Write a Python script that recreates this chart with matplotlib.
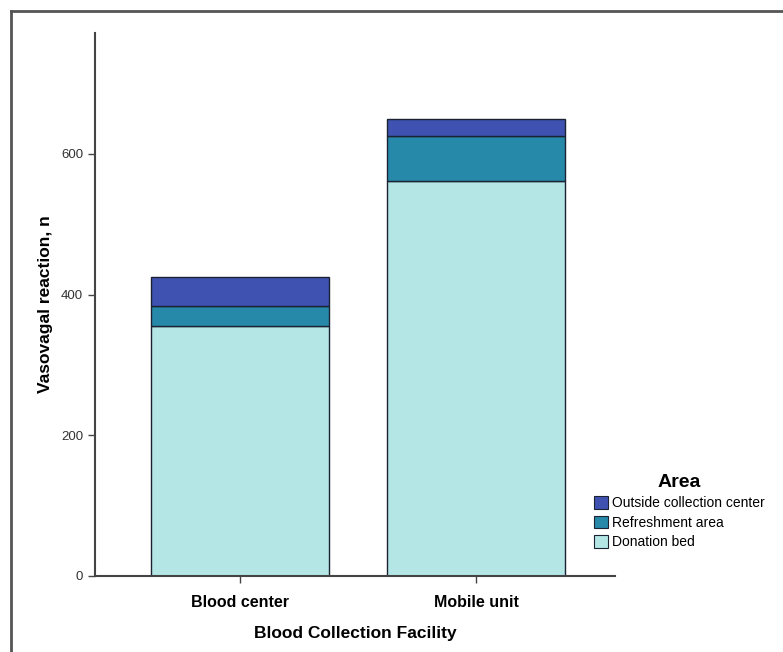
import matplotlib.pyplot as plt
from matplotlib.lines import Line2D
from matplotlib.patches import Patch

plt.rcParams['font.family'] = ['Liberation Sans', 'DejaVu Sans']

facilities = ['Blood center', 'Mobile unit']
areas = ['Donation bed', 'Refreshment area', 'Outside collection center']
donation_bed = [355, 562]
refreshment = [29, 64]
outside = [41, 24]
colors = ['#b4e6e6', '#2689a9', '#3f52b2']

fig = plt.figure(figsize=(7.83, 6.52), dpi=100)
ax = fig.add_axes([0.1213, 0.1166, 0.6641, 0.8328])

x = [0, 1]
w = 0.754
bottom = [0, 0]
for vals, col in zip([donation_bed, refreshment, outside], colors):
    ax.bar(x, vals, w, bottom=bottom, color=col, edgecolor='#1b2333', linewidth=1.0)
    bottom = [b + v for b, v in zip(bottom, vals)]

ax.set_xlim(-0.614, 1.589)
ax.set_ylim(0, 772)
ax.set_yticks([0, 200, 400, 600])
ax.set_xticks(x)
ax.set_xticklabels(facilities, fontsize=11.5, fontweight='bold')
ax.tick_params(axis='y', labelsize=9.5, labelcolor='#333333', length=5, width=1, color='#444444')
ax.tick_params(axis='x', length=5, width=1, color='#444444', pad=9)

for s in ['top', 'right']:
    ax.spines[s].set_visible(False)
for s in ['left', 'bottom']:
    ax.spines[s].set_color('#444444')
    ax.spines[s].set_linewidth(1.5)

ax.set_xlabel('Blood Collection Facility', fontsize=12.5, fontweight='bold', labelpad=11)
ax.set_ylabel('Vasovagal reaction, n', fontsize=12.5, fontweight='bold', labelpad=6)

# legend, top entry first
handles = [Patch(facecolor=c, edgecolor='#1b2333', linewidth=0.8) for c in colors[::-1]]
leg = fig.legend(handles, areas[::-1], loc='upper left', bbox_to_anchor=(0.7495, 0.284),
                 frameon=False, title='Area', fontsize=10, handlelength=1.0,
                 handleheight=1.0, handletextpad=0.3, labelspacing=0.4, borderpad=0)
leg.get_title().set_fontweight('bold')
leg.get_title().set_fontsize(14)

# outer frame (left and top only)
fig.add_artist(Line2D([0.014, 0.014], [0, 0.983], color='#555555', lw=2, transform=fig.transFigure))
fig.add_artist(Line2D([0.014, 1], [0.983, 0.983], color='#555555', lw=2, transform=fig.transFigure))

fig.savefig('out.png', dpi=100)
